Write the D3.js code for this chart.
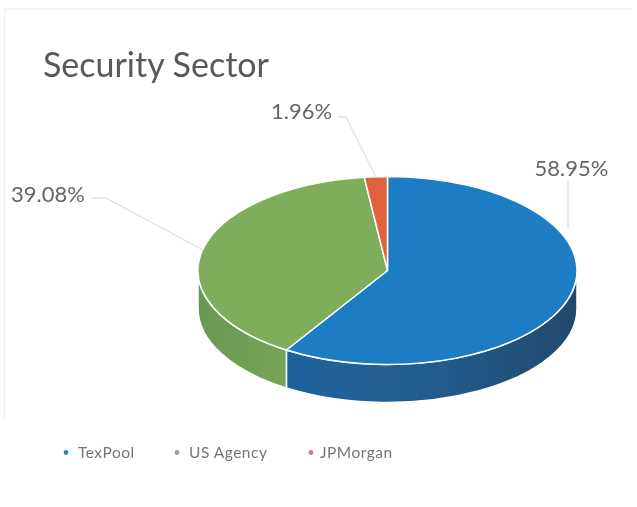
<!DOCTYPE html>
<html>
<head>
<meta charset="utf-8">
<script src="https://cdn.jsdelivr.net/npm/d3@7"></script>
<style>
html, body { margin: 0; padding: 0; background: #fff; }
svg { display: block; }
text { font-family: Lato, "Open Sans", sans-serif; }
</style>
</head>
<body>
<div id="chart"></div>
<script>
var sectors = ["TexPool", "US Agency", "JPMorgan"];
var shares = [58.95, 39.08, 1.96];
var shareLabels = ["58.95%", "39.08%", "1.96%"];
var topColors = ["#1b7cc4", "#7eae5b", "#e2623a"];
var legendDots = ["#2a86c0", "#9aa39a", "#e0708a"];

var width = 637;
var height = 507;
var cx = 387.5;
var cy = 270.5;
var rx = 189.5;
var ry = 94;
var depth = 38;

var svg = d3.select("#chart").append("svg")
	.attr("width", width)
	.attr("height", height);

var defs = svg.append("defs");

defs.append("filter").attr("id", "soft")
	.append("feGaussianBlur").attr("stdDeviation", 0.6);

var blueSide = defs.append("linearGradient").attr("id", "blueSide");
blueSide.append("stop").attr("offset", "0%").attr("stop-color", "#1f649f");
blueSide.append("stop").attr("offset", "55%").attr("stop-color", "#235a8c");
blueSide.append("stop").attr("offset", "100%").attr("stop-color", "#24496b");

var greenSide = defs.append("linearGradient").attr("id", "greenSide");
greenSide.append("stop").attr("offset", "0%").attr("stop-color", "#6a9850");
greenSide.append("stop").attr("offset", "100%").attr("stop-color", "#76a45a");

var sideFill = d3.scaleOrdinal().domain(sectors)
	.range(["url(#blueSide)", "url(#greenSide)", "#b5502f"]);
var topFill = d3.scaleOrdinal().domain(sectors).range(topColors);
var dotFill = d3.scaleOrdinal().domain(sectors).range(legendDots);

var G = svg.append("g").attr("filter", "url(#soft)");

// faint scan edge of the original page
G.append("path")
	.attr("d", "M4.5,420V9H632")
	.attr("fill", "none")
	.attr("stroke", "#f3f3f3")
	.attr("stroke-width", 1.5);

var pie = d3.pie().sort(null)
	.value(function(d) { return d.value; });

var slices = pie(sectors.map(function(s, i) {
	return { name: s, value: shares[i], label: shareLabels[i] };
}));

function rimX(a) { return cx + rx * Math.sin(a); }
function rimY(a) { return cy - ry * Math.cos(a); }

// outer wall, only the part of the rim facing the viewer (90deg to 270deg)
function wallPath(d) {
	var a0 = Math.max(d.startAngle, Math.PI / 2);
	var a1 = Math.min(d.endAngle, Math.PI * 1.5);
	if (a1 <= a0) return null;
	return "M" + rimX(a0) + "," + rimY(a0) +
		"A" + rx + "," + ry + " 0 0 1 " + rimX(a1) + "," + rimY(a1) +
		"L" + rimX(a1) + "," + (rimY(a1) + depth) +
		"A" + rx + "," + ry + " 0 0 0 " + rimX(a0) + "," + (rimY(a0) + depth) +
		"Z";
}

G.selectAll(".wall")
	.data(slices.filter(wallPath))
	.enter().append("path")
	.attr("class", "wall")
	.attr("d", wallPath)
	.attr("fill", function(d) { return sideFill(d.data.name); })
	.attr("stroke", "#fff")
	.attr("stroke-width", 1.5);

var arc = d3.arc().innerRadius(0).outerRadius(rx);

G.append("g")
	.attr("transform", "translate(" + cx + "," + cy + ") scale(1," + (ry / rx) + ")")
	.selectAll("path")
	.data(slices)
	.enter().append("path")
	.attr("d", arc)
	.attr("fill", function(d) { return topFill(d.data.name); })
	.attr("stroke", "#fff")
	.attr("stroke-width", 1.5)
	.attr("vector-effect", "non-scaling-stroke");

// leader lines and labels, same order as sectors
var leaders = [
	"M568,180V229",
	"M92,198H106L203,250",
	"M338,117H346L376,177"
];
var labelSpots = [[571.5, 175.5], [48, 201.5], [301.5, 118.5]];

G.selectAll(".leader")
	.data(leaders)
	.enter().append("path")
	.attr("class", "leader")
	.attr("d", function(d) { return d; })
	.attr("fill", "none")
	.attr("stroke", "#d4d4d4")
	.attr("stroke-width", 1);

G.selectAll(".share")
	.data(slices)
	.enter().append("text")
	.attr("class", "share")
	.attr("x", function(d, i) { return labelSpots[i][0]; })
	.attr("y", function(d, i) { return labelSpots[i][1]; })
	.attr("text-anchor", "middle")
	.attr("font-size", 22)
	.attr("fill", "#666")
	.text(function(d) { return d.data.label; });

G.append("text")
	.attr("x", 43)
	.attr("y", 77)
	.attr("font-size", 34)
	.attr("fill", "#595959")
	.text("Security Sector");

// legend
var legendX = [66, 177, 311];
var legendTextX = [78, 189, 320];

var legend = G.selectAll(".legend")
	.data(sectors)
	.enter().append("g")
	.attr("class", "legend");

legend.append("circle")
	.attr("cx", function(d, i) { return legendX[i]; })
	.attr("cy", 452.5)
	.attr("r", 2.4)
	.attr("fill", function(d) { return dotFill(d); });

legend.append("text")
	.attr("x", function(d, i) { return legendTextX[i]; })
	.attr("y", 458)
	.attr("font-size", 15.5)
	.attr("letter-spacing", 0.5)
	.attr("fill", "#757575")
	.text(function(d) { return d; });
</script>
</body>
</html>
